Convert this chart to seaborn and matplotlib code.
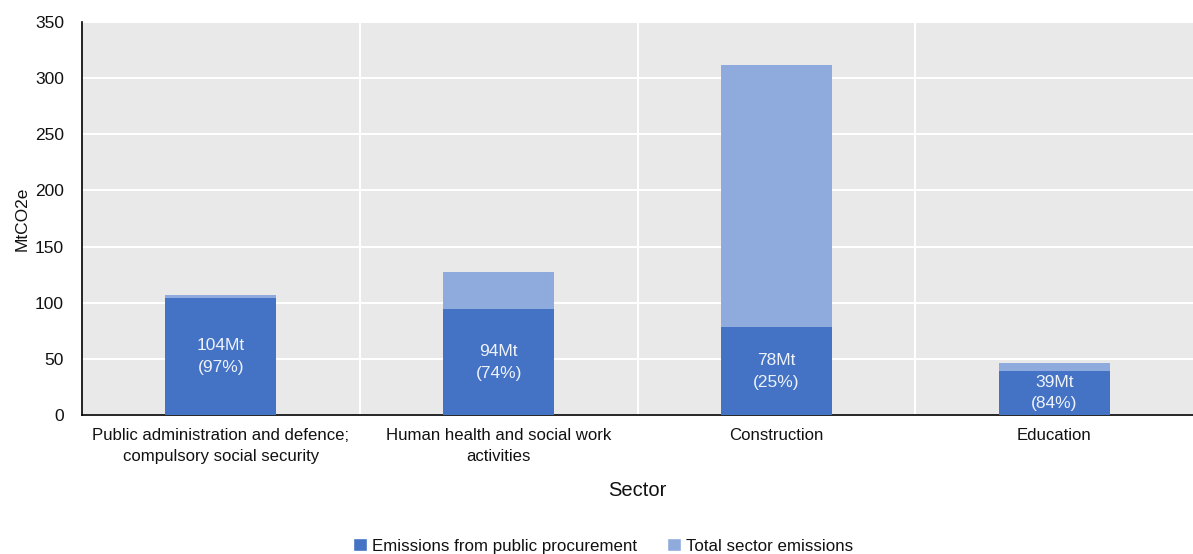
import pandas as pd
import numpy as np
import matplotlib.pyplot as plt
import seaborn as sns
from matplotlib.patches import Patch

# data
sectors = ["Public administration and defence;\ncompulsory social security",
           "Human health and social work\nactivities",
           "Construction",
           "Education"]
procurement = [104, 94, 78, 39]
total_emissions = [107.2, 127.0, 312.0, 46.4]
shares = [97, 74, 25, 84]

dark_blue = '#4472c4'
light_blue = '#8faadc'

sns.set_style('white')
plt.rcParams['font.family'] = ['Liberation Sans', 'DejaVu Sans']
plt.rcParams['text.color'] = '#111111'
plt.rcParams['axes.labelcolor'] = '#111111'
plt.rcParams['xtick.color'] = '#111111'
plt.rcParams['ytick.color'] = '#111111'

df = pd.DataFrame({'Sector': sectors, 'Procurement': procurement,
                   'Total': total_emissions, 'Share': shares})

fig = plt.figure(figsize=(11.93, 5.54), dpi=100)
ax = fig.add_axes([82 / 1193, 1 - 415 / 554, 1111 / 1193, 393 / 554])
ax.set_facecolor('#e9e9e9')

# total sector emissions behind, public procurement share in front
sns.barplot(data=df, x='Sector', y='Total', color=light_blue, width=0.4,
            saturation=1, linewidth=0, ax=ax, zorder=3)
sns.barplot(data=df, x='Sector', y='Procurement', color=dark_blue, width=0.4,
            saturation=1, linewidth=0, ax=ax, zorder=4)

for i, row in df.iterrows():
    ax.text(i, row['Procurement'] / 2, f"{row['Procurement']}Mt\n({row['Share']}%)",
            ha='center', va='center', color='#eef2fa', fontsize=12.5,
            linespacing=1.55, zorder=5)

ax.set_xlim(-0.5, len(sectors) - 0.5)
ax.set_ylim(0, 350)
ax.set_yticks(np.arange(0, 351, 50))
ax.set_xticks(np.arange(0.5, len(sectors) - 0.5, 1), minor=True)
ax.grid(True, axis='y', which='major', color='white', linewidth=1.5, zorder=1)
ax.grid(True, axis='x', which='minor', color='white', linewidth=1.5, zorder=1)
ax.set_axisbelow(True)

for side in ['top', 'right']:
    ax.spines[side].set_visible(False)
for side in ['left', 'bottom']:
    ax.spines[side].set_color('black')
    ax.spines[side].set_linewidth(1.2)

ax.tick_params(axis='y', direction='in', length=5, width=1.2, labelsize=12.5, pad=13)
ax.tick_params(axis='x', which='major', length=0, labelsize=12.1, pad=9)
ax.tick_params(axis='x', which='minor', direction='in', length=5, width=1.2)
for lbl in ax.get_xticklabels():
    lbl.set_linespacing(1.55)

ax.set_xlabel('Sector', fontsize=14.5, labelpad=12)
ax.set_ylabel('MtCO2e', fontsize=12.5, labelpad=4)

handles = [Patch(facecolor=dark_blue, label='Emissions from public procurement'),
           Patch(facecolor=light_blue, label='Total sector emissions')]
fig.legend(handles=handles, loc='center', bbox_to_anchor=(603 / 1193, 1 - 546 / 554),
           ncol=2, frameon=False, fontsize=12.2, handlelength=0.8, handleheight=0.8,
           handletextpad=0.3, columnspacing=1.8)

plt.savefig('out.png', dpi=100)
